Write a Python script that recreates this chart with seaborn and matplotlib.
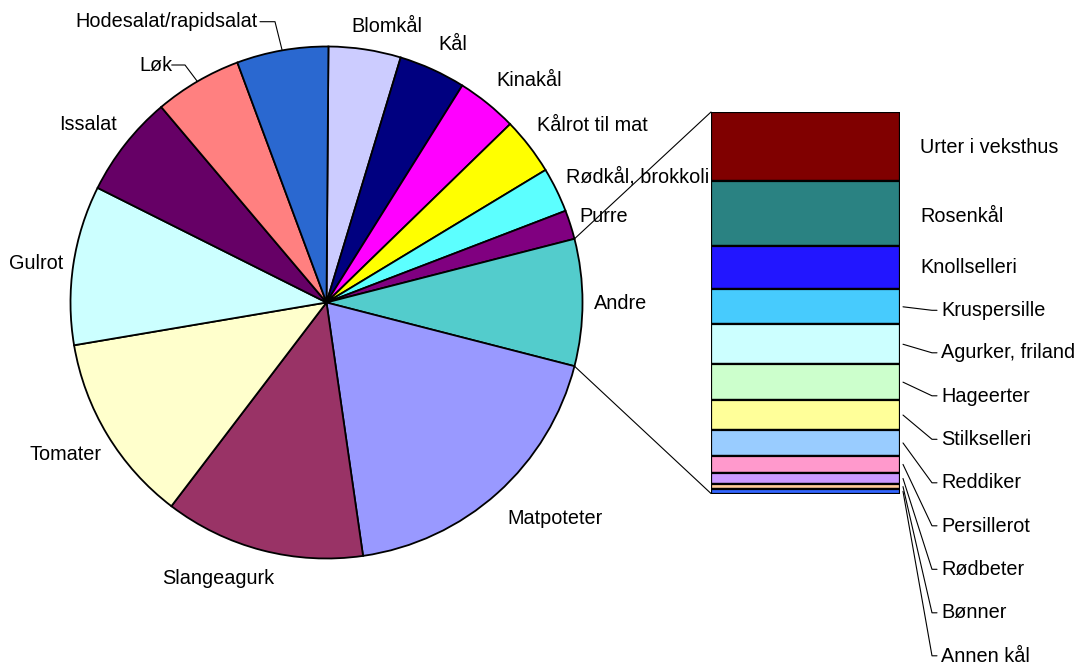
import numpy as np
import matplotlib
matplotlib.use("Agg")
import matplotlib.pyplot as plt
import seaborn as sns
from matplotlib.patches import ConnectionPatch
from matplotlib.lines import Line2D

# ---------------- data ----------------
pie_labels = ["Blomkål", "Kål", "Kinakål", "Kålrot til mat", "Rødkål, brokkoli", "Purre",
              "Andre", "Matpoteter", "Slangeagurk", "Tomater", "Gulrot", "Issalat", "Løk",
              "Hodesalat/rapidsalat"]
pie_values = [4.56, 4.22, 3.83, 3.61, 2.83, 1.83, 8.00, 18.72, 12.64, 11.97, 10.06, 6.44, 5.51, 5.78]
pie_colors = ["#ccccff", "#000080", "#ff00ff", "#ffff00", "#5cffff", "#800080", "#53cccc",
              "#9999ff", "#993366", "#ffffcc", "#ccffff", "#660066", "#ff8080", "#2a68d0"]

bar_labels = ["Urter i veksthus", "Rosenkål", "Knollselleri", "Kruspersille", "Agurker, friland",
              "Hageerter", "Stilkselleri", "Reddiker", "Persillerot", "Rødbeter", "Bønner", "Annen kål"]
bar_values = [1.45, 1.36, 0.91, 0.73, 0.84, 0.75, 0.63, 0.54, 0.36, 0.23, 0.11, 0.09]
bar_colors = ["#800000", "#2a8282", "#2216ff", "#47cbfd", "#ccffff", "#ccffcc", "#ffff99",
              "#99ccff", "#ff99cc", "#cc99ff", "#ffcc99", "#3366ff"]

# ---------------- layout (pixels) ----------------
W, H = 1086, 667
FS = 14.3
pie_label_pos = {
    "Blomkål": (351.7, 31.7), "Kål": (438.3, 50), "Kinakål": (496, 85.7),
    "Kålrot til mat": (537.3, 130.7), "Rødkål, brokkoli": (565.7, 182.7), "Purre": (579.3, 222.3),
    "Andre": (594.3, 309.3), "Matpoteter": (507.7, 524), "Slangeagurk": (161.7, 584),
    "Tomater": (30, 460), "Gulrot": (9, 269.3), "Issalat": (59, 130), "Løk": (139.3, 70.7),
    "Hodesalat/rapidsalat": (75, 27.3),
}
pie_leaders = {"Hodesalat/rapidsalat": ((260, 21.7), (275, 21.7)),
               "Løk": ((171.7, 65), (185, 65))}
bar_label_x_near = 920
bar_label_x_far = 941
bar_label_base = [153.3, 221.7, 273.3, 316, 358.5, 401.5, 445, 488.5, 531.5, 575, 618.5, 661.5]

sns.set_theme(style="white")
plt.rcParams["font.family"] = ["Liberation Sans", "DejaVu Sans"]

fig = plt.figure(figsize=(W / 100, H / 100), dpi=100)
fig.patch.set_facecolor("white")

def px2fig(x, y):
    return x / W, 1 - y / H

# pie axes
cx, cy, r = 326.5, 302.5, 256
ax_pie = fig.add_axes([(cx - r) / W, (H - cy - r) / H, 2 * r / W, 2 * r / H])
total = sum(pie_values)
andre_idx = pie_labels.index("Andre")
start = 360 * (sum(pie_values[:andre_idx]) + pie_values[andre_idx] / 2) / total
wedges, _ = ax_pie.pie(pie_values, colors=pie_colors, startangle=start, counterclock=False,
                       radius=1, wedgeprops=dict(edgecolor="black", linewidth=1.3))
ax_pie.set_xlim(-1, 1)
ax_pie.set_ylim(-1, 1)
ax_pie.set_aspect("auto")
ax_pie.axis("off")

# bar axes
bx0, bx1, by0, by1 = 711, 900, 112, 493.5
ax_bar = fig.add_axes([bx0 / W, (H - by1) / H, (bx1 - bx0) / W, (by1 - by0) / H])
bar_total = sum(bar_values)
bottoms = np.concatenate([[0], np.cumsum(bar_values)[:-1]])
ax_bar.bar([0] * len(bar_values), bar_values, bottom=bottoms, width=1, color=bar_colors,
           edgecolor="black", linewidth=1.6)
ax_bar.set_xlim(-0.5, 0.5)
ax_bar.set_ylim(bar_total, 0)
ax_bar.axis("off")

# connectors from pie "Andre" wedge to bar
w = wedges[andre_idx]
t_top, t_bot = np.deg2rad(w.theta2), np.deg2rad(w.theta1)
for t, yb in [(t_top, 0), (t_bot, bar_total)]:
    con = ConnectionPatch(xyA=(np.cos(t), np.sin(t)), coordsA=ax_pie.transData,
                          xyB=(-0.5, yb), coordsB=ax_bar.transData,
                          color="black", linewidth=0.8)
    fig.add_artist(con)

# pie labels
for lab in pie_labels:
    x, yb = pie_label_pos[lab]
    fx, fy = px2fig(x, yb)
    fig.text(fx, fy, lab, ha="left", va="baseline", fontsize=FS, color="black")

# pie leader lines
fig.canvas.draw()
for lab, (p0, p1) in pie_leaders.items():
    wd = wedges[pie_labels.index(lab)]
    mid = np.deg2rad((wd.theta1 + wd.theta2) / 2)
    ex, ey = ax_pie.transData.transform((np.cos(mid), np.sin(mid)))
    xs = [p0[0] / W, p1[0] / W, ex / W]
    ys = [1 - p0[1] / H, 1 - p1[1] / H, ey / H]
    fig.add_artist(Line2D(xs, ys, transform=fig.transFigure, color="black", linewidth=0.8))

# bar labels and leaders
for i, lab in enumerate(bar_labels):
    base = bar_label_base[i]
    if i < 3:
        fx, fy = px2fig(bar_label_x_near, base)
        fig.text(fx, fy, lab, ha="left", va="baseline", fontsize=FS, color="black")
    else:
        fx, fy = px2fig(bar_label_x_far, base)
        fig.text(fx, fy, lab, ha="left", va="baseline", fontsize=FS, color="black")
        ycen = bottoms[i] + bar_values[i] / 2
        sx, sy = ax_bar.transData.transform((0.5, ycen))
        sx += 3
        ty = H - (base - 5.7)
        xs = [sx / W, 932 / W, 937 / W]
        ys = [sy / H, ty / H, ty / H]
        fig.add_artist(Line2D(xs, ys, transform=fig.transFigure, color="black", linewidth=0.8))

fig.savefig("out.png", dpi=100, facecolor="white")
